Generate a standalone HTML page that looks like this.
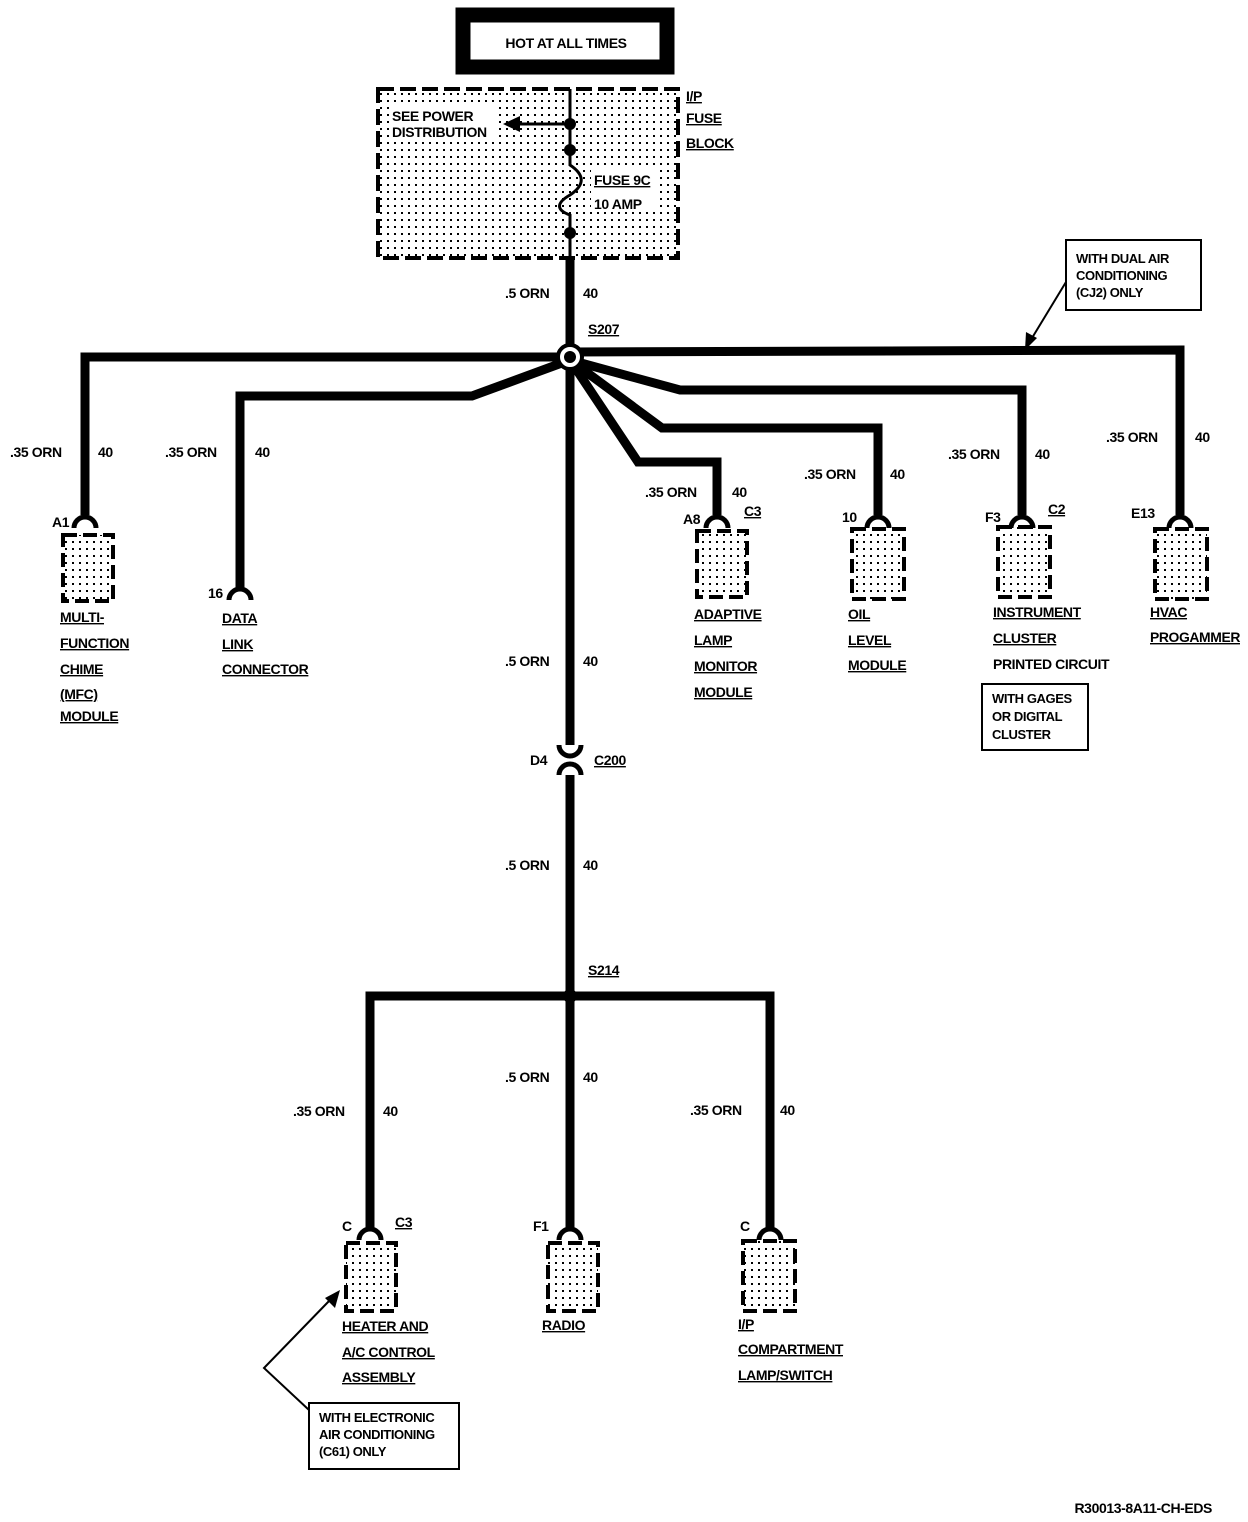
<!DOCTYPE html>
<html><head><style>
html,body{margin:0;padding:0;background:#fff;}
svg{display:block;}
text{font-family:"Liberation Sans",sans-serif;font-size:14px;font-weight:bold;fill:#000;letter-spacing:-0.4px;}
</style></head><body>
<svg width="1248" height="1522" viewBox="0 0 1248 1522" xmlns="http://www.w3.org/2000/svg">
<defs>
<pattern id="dots" width="7" height="7" patternUnits="userSpaceOnUse"><rect x="2" y="2" width="2" height="2" fill="#000"/></pattern>
</defs>
<!-- HOT box -->
<rect x="463" y="15" width="204" height="52" fill="#fff" stroke="#000" stroke-width="15"/>
<text x="566" y="48" text-anchor="middle">HOT AT ALL TIMES</text>
<!-- fuse block -->
<rect x="378" y="89" width="300" height="169" fill="url(#dots)" stroke="#000" stroke-width="4" stroke-dasharray="16 6"/>
<rect x="389" y="106" width="106" height="32" fill="#fff"/>
<rect x="591" y="170" width="66" height="42" fill="#fff"/>
<text x="392" y="121">SEE POWER</text>
<text x="392" y="137">DISTRIBUTION</text>
<path d="M570 89 V165 C585 175 585 185 570 195 C556 203 556 210 570 215 V259" fill="none" stroke="#000" stroke-width="3"/>
<circle cx="570" cy="124" r="6"/><circle cx="570" cy="150" r="6"/><circle cx="570" cy="233" r="6"/>
<line x1="570" y1="124" x2="515" y2="124" stroke="#000" stroke-width="3"/>
<polygon points="503,124 520,116 520,132"/>
<text x="594" y="185" text-decoration="underline">FUSE 9C</text>
<text x="594" y="209">10 AMP</text>
<text x="686" y="101" text-decoration="underline">I/P</text>
<text x="686" y="123" text-decoration="underline">FUSE</text>
<text x="686" y="148" text-decoration="underline">BLOCK</text>
<!-- main wire -->
<g stroke="#000" stroke-width="9" fill="none" stroke-linejoin="miter">
<line x1="570" y1="258" x2="570" y2="745"/>
<line x1="570" y1="775" x2="570" y2="1228"/>
<polyline points="570,357 85,357 85,515"/>
<polyline points="570,360 472,396 240,396 240,590"/>
<polyline points="570,352 1180,350 1180,515"/>
<polyline points="570,360 680,390 1022,390 1022,515"/>
<polyline points="570,360 662,428 878,428 878,515"/>
<polyline points="570,360 638,462 717,462 717,515"/>
<polyline points="370,1228 370,996 770,996 770,1228"/>
</g>
<text x="505" y="298">.5 ORN</text><text x="583" y="298">40</text>
<text x="588" y="334" text-decoration="underline">S207</text>
<circle cx="570" cy="357" r="12" fill="#fff" stroke="#000" stroke-width="4"/>
<circle cx="570" cy="357" r="6"/>
<!-- dual AC note -->
<rect x="1066" y="240" width="135" height="70" fill="#fff" stroke="#000" stroke-width="2"/>
<text x="1076" y="263" style="font-size:13px">WITH DUAL AIR</text>
<text x="1076" y="280" style="font-size:13px">CONDITIONING</text>
<text x="1076" y="297" style="font-size:13px">(CJ2) ONLY</text>
<line x1="1066" y1="282" x2="1032" y2="338" stroke="#000" stroke-width="2"/>
<polygon points="1025,350 1026,332 1037,338"/>
<!-- wire labels -->
<text x="10" y="457">.35 ORN</text><text x="98" y="457">40</text>
<text x="165" y="457">.35 ORN</text><text x="255" y="457">40</text>
<text x="645" y="497">.35 ORN</text><text x="732" y="497">40</text>
<text x="804" y="479">.35 ORN</text><text x="890" y="479">40</text>
<text x="948" y="459">.35 ORN</text><text x="1035" y="459">40</text>
<text x="1106" y="442">.35 ORN</text><text x="1195" y="442">40</text>
<text x="505" y="666">.5 ORN</text><text x="583" y="666">40</text>
<text x="505" y="870">.5 ORN</text><text x="583" y="870">40</text>
<text x="505" y="1082">.5 ORN</text><text x="583" y="1082">40</text>
<text x="293" y="1116">.35 ORN</text><text x="383" y="1116">40</text>
<text x="690" y="1115">.35 ORN</text><text x="780" y="1115">40</text>
<!-- connectors -->
<g fill="none" stroke="#000" stroke-width="5">
<path d="M74 528 A11 11 0 0 1 96 528"/>
<path d="M229 600 A11 11 0 0 1 251 600"/>
<path d="M706 528 A11 11 0 0 1 728 528"/>
<path d="M867 528 A11 11 0 0 1 889 528"/>
<path d="M1011 528 A11 11 0 0 1 1033 528"/>
<path d="M1169 528 A11 11 0 0 1 1191 528"/>
<path d="M359 1240 A11 11 0 0 1 381 1240"/>
<path d="M559 1240 A11 11 0 0 1 581 1240"/>
<path d="M759 1240 A11 11 0 0 1 781 1240"/>
<path d="M559 745 A11 11 0 0 0 581 745 M559 775 A11 11 0 0 1 581 775"/>
</g>
<g fill="url(#dots)" stroke="#000" stroke-width="4" stroke-dasharray="14 6">
<rect x="63" y="535" width="50" height="66"/>
<rect x="697" y="531" width="50" height="66"/>
<rect x="852" y="529" width="52" height="70"/>
<rect x="998" y="527" width="52" height="70"/>
<rect x="1155" y="529" width="52" height="70"/>
<rect x="346" y="1243" width="50" height="68"/>
<rect x="548" y="1243" width="50" height="68"/>
<rect x="743" y="1241" width="52" height="70"/>
</g>
<text x="52" y="527">A1</text>
<text x="208" y="598">16</text>
<text x="683" y="524">A8</text><text x="744" y="516" text-decoration="underline">C3</text>
<text x="842" y="522">10</text>
<text x="985" y="522">F3</text><text x="1048" y="514" text-decoration="underline">C2</text>
<text x="1131" y="518">E13</text>
<text x="530" y="765">D4</text><text x="594" y="765" text-decoration="underline">C200</text>
<text x="588" y="975" text-decoration="underline">S214</text>
<circle cx="570" cy="996" r="7"/>
<text x="342" y="1231">C</text><text x="395" y="1227" text-decoration="underline">C3</text>
<text x="533" y="1231">F1</text>
<text x="740" y="1231">C</text>
<!-- component labels -->
<g text-decoration="underline">
<text x="60" y="622">MULTI-</text><text x="60" y="648">FUNCTION</text><text x="60" y="674">CHIME</text><text x="60" y="699">(MFC)</text><text x="60" y="721">MODULE</text>
<text x="222" y="623">DATA</text><text x="222" y="649">LINK</text><text x="222" y="674">CONNECTOR</text>
<text x="694" y="619">ADAPTIVE</text><text x="694" y="645">LAMP</text><text x="694" y="671">MONITOR</text><text x="694" y="697">MODULE</text>
<text x="848" y="619">OIL</text><text x="848" y="645">LEVEL</text><text x="848" y="670">MODULE</text>
<text x="993" y="617">INSTRUMENT</text><text x="993" y="643">CLUSTER</text>
<text x="1150" y="617">HVAC</text><text x="1150" y="642" textLength="90" lengthAdjust="spacingAndGlyphs">PROGAMMER</text>
<text x="342" y="1331">HEATER AND</text><text x="342" y="1357">A/C CONTROL</text><text x="342" y="1382">ASSEMBLY</text>
<text x="542" y="1330">RADIO</text>
<text x="738" y="1329">I/P</text><text x="738" y="1354">COMPARTMENT</text><text x="738" y="1380">LAMP/SWITCH</text>
</g>
<text x="993" y="669">PRINTED CIRCUIT</text>
<rect x="982" y="684" width="106" height="66" fill="#fff" stroke="#000" stroke-width="2"/>
<text x="992" y="703" style="font-size:13px">WITH GAGES</text>
<text x="992" y="721" style="font-size:13px">OR DIGITAL</text>
<text x="992" y="739" style="font-size:13px">CLUSTER</text>
<!-- electronic AC note -->
<rect x="309" y="1403" width="150" height="66" fill="#fff" stroke="#000" stroke-width="2"/>
<text x="319" y="1422" style="font-size:13px">WITH ELECTRONIC</text>
<text x="319" y="1439" style="font-size:13px">AIR CONDITIONING</text>
<text x="319" y="1456" style="font-size:13px">(C61) ONLY</text>
<polyline points="309,1410 264,1368 330,1300" fill="none" stroke="#000" stroke-width="2"/>
<polygon points="340,1290 335,1308 325,1298"/>
<text x="1212" y="1513" text-anchor="end">R30013-8A11-CH-EDS</text>
</svg>
</body></html>
